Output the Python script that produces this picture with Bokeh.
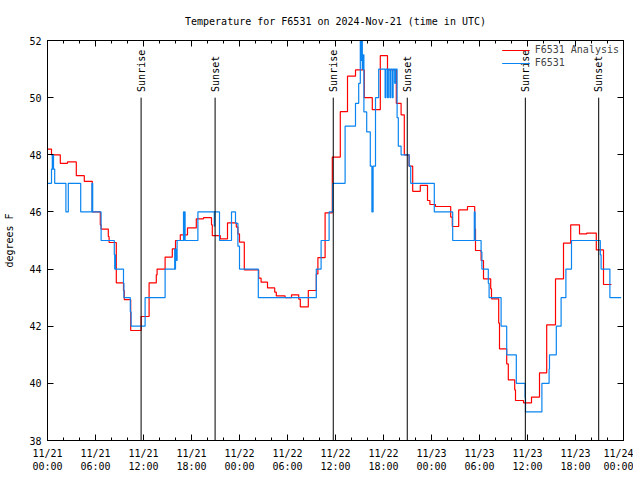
import math
import pandas as pd
from bokeh.plotting import figure
from bokeh.models import (DatetimeAxis, LinearAxis, FixedTicker, DatetimeTickFormatter)
from bokeh.core.properties import value
from bokeh.embed import file_html
from bokeh.resources import INLINE

# ---------------- data (hours after 2024-11-21 00:00 UTC) ----------------
start_time = "2024-11-21 00:00"

analysis_hours = [0.0, 0.5, 1.6, 2.5, 3.6, 4.6, 5.6, 6.6, 6.7, 7.6, 7.7, 8.6, 9.5, 9.6,
                  10.4, 11.7, 12.7, 13.6, 13.7, 14.7, 15.6, 16.0, 16.6, 17.5, 18.6, 19.5,
                  20.5, 20.6, 21.6, 22.5, 23.6, 23.8, 24.0, 24.6, 26.4, 26.7, 27.5, 28.4,
                  28.6, 29.7, 30.5, 31.4, 31.6, 32.6, 33.6, 33.8, 34.7, 35.6, 36.6, 37.5,
                  38.5, 39.6, 40.6, 41.6, 42.5, 43.6, 44.2, 44.6, 45.2, 45.65, 46.6, 47.5,
                  47.8, 48.5, 50.4, 50.6, 51.4, 52.5, 53.4, 53.5, 54.2, 54.5, 55.4, 55.5,
                  56.4, 56.5, 57.4, 57.6, 58.4, 58.5, 59.5, 60.5, 61.5, 62.4, 63.5, 64.5,
                  65.4, 66.5, 67.4, 68.6, 69.5, 70.5]
analysis_temps = [48.2, 48.0, 47.7, 47.75, 47.27, 47.07, 46.0, 45.55, 45.4, 45.14, 44.93,
                  43.52, 43.25, 42.93, 41.85, 42.34, 43.52, 43.8, 44.0, 44.42, 44.71, 45.0,
                  45.2, 45.44, 45.76, 45.8, 45.55, 45.17, 45.06, 45.62, 45.47, 45.23, 44.94,
                  43.97, 43.68, 43.54, 43.34, 43.19, 43.06, 43.0, 43.1, 42.95, 42.68, 43.25,
                  43.83, 44.4, 45.97, 47.92, 49.51, 50.75, 50.97, 50.0, 49.58, 51.47, 50.97,
                  49.8, 49.4, 48.0, 47.6, 46.72, 46.93, 46.4, 46.26, 46.19, 45.82, 45.49,
                  46.07, 46.19, 45.41, 44.65, 44.3, 43.66, 43.31, 42.96, 42.11, 41.21, 40.68,
                  40.12, 39.77, 39.4, 39.32, 39.52, 40.37, 42.05, 43.66, 44.91, 45.55, 45.23,
                  45.26, 44.67, 43.46, 43.46]

station_hours = [0.0, 0.5, 0.6, 0.65, 0.7, 0.75, 0.9, 2.3, 2.6, 4.15, 5.55, 5.6, 5.62, 5.65,
                 6.7, 8.35, 8.4, 8.45, 8.5, 9.5, 9.55, 10.35, 10.45, 12.2, 14.7, 15.9, 15.95,
                 16.0, 16.1, 16.2, 17.0, 17.05, 17.1, 17.2, 18.8, 20.85, 20.9, 21.5, 23.0,
                 23.5, 23.8, 24.0, 26.35, 33.6, 34.2, 35.2, 35.65, 37.2, 38.5, 38.9, 39.1,
                 39.2, 39.25, 39.35, 39.4, 39.45, 39.5, 39.55, 39.9, 40.35, 40.55, 40.7, 41.0,
                 41.4, 42.2, 42.3, 42.5, 42.6, 42.8, 42.9, 43.1, 43.2, 43.4, 43.5, 43.7,
                 43.85, 44.2, 45.2, 45.4, 48.35, 50.65, 53.35, 53.45, 54.2, 54.3, 55.1, 55.2,
                 56.7, 57.4, 58.6, 59.7, 59.75, 61.8, 62.7, 62.75, 63.6, 64.2, 64.8, 65.5,
                 69.1, 69.2, 70.3, 71.7]
station_temps = [47, 47.5, 48, 47.5, 48, 47.5, 47, 46, 47, 46, 47, 46, 47, 46,
                 45, 44.5, 44, 44.5, 44, 43.5, 43, 42.5, 42, 43, 44, 44.7, 44,
                 44.7, 44.3, 45, 46, 45, 46, 45, 46, 45.5, 46, 45, 46,
                 45.6, 44.8, 44, 43, 44, 45, 46, 47, 49, 49.8, 50.5, 52.5,
                 51.3, 52.5, 51.0, 51.5, 51.0, 51.5, 49.5, 48.8, 47.6, 46, 47.6, 50,
                 51, 50, 51, 50, 51, 50, 51, 50, 51, 50.5, 51, 49.3,
                 48.3, 48, 47.6, 47, 46, 45, 46, 45, 44.6, 44, 43.5, 43,
                 42, 41, 40, 39.5, 39, 40, 40.5, 41, 42, 43, 44, 45,
                 44.5, 44, 43, 43]

event_hours = [11.7, 20.95, 35.72, 44.97, 59.73, 68.9]
event_labels = ["Sunrise", "Sunset", "Sunrise", "Sunset", "Sunrise", "Sunset"]

y_ticks = [38, 40, 42, 44, 46, 48, 50, 52]
major_step_hours = 6
minor_step_hours = 2
span_hours = 72

# ---------------- helpers ----------------
t0 = pd.Timestamp(start_time)


def to_dt(hours):
    return [(t0 + pd.Timedelta(hours=h)).to_pydatetime() for h in hours]


def to_ms(hours):
    return [(t0 + pd.Timedelta(hours=h)).timestamp() * 1000.0 for h in hours]


FONT = "DejaVu Sans Mono"
FS = "10px"

p = figure(
    frame_width=576, frame_height=400,
    x_axis_type="datetime",
    x_range=(t0.to_pydatetime(), (t0 + pd.Timedelta(hours=span_hours)).to_pydatetime()),
    y_range=(38, 52),
    output_backend="svg", toolbar_location=None,
    min_border_left=47, min_border_right=10, min_border_top=40, min_border_bottom=34,
    title="Temperature for F6531 on 2024-Nov-21 (time in UTC)",
)
p.background_fill_color = "white"
p.border_fill_color = "white"
p.outline_line_color = "black"
p.outline_line_width = 1
p.xgrid.visible = False
p.ygrid.visible = False

p.title.align = "center"
p.title.text_font = FONT
p.title.text_font_size = FS
p.title.text_font_style = "normal"
p.title.text_color = "black"
p.title.standoff = 27

major_ms = to_ms(list(range(0, span_hours + 1, major_step_hours)))
minor_ms = to_ms(list(range(0, span_hours + 1, minor_step_hours)))
xticker = FixedTicker(ticks=major_ms, minor_ticks=minor_ms)
fmt = "%m/%d\n%H:%M"
xformatter = DatetimeTickFormatter(
    microseconds=fmt, milliseconds=fmt, seconds=fmt, minsec=fmt, minutes=fmt,
    hourmin=fmt, hours=fmt, days=fmt, months=fmt, years=fmt)
yticker = FixedTicker(ticks=y_ticks, minor_ticks=[])


def style_axis(ax):
    ax.axis_line_color = "black"
    ax.major_tick_line_color = "black"
    ax.minor_tick_line_color = "black"
    ax.major_tick_in = 6
    ax.major_tick_out = 0
    ax.minor_tick_in = 3
    ax.minor_tick_out = 0
    ax.major_label_text_font = FONT
    ax.major_label_text_font_size = FS
    ax.major_label_text_color = "black"
    ax.axis_label_text_font = FONT
    ax.axis_label_text_font_size = FS
    ax.axis_label_text_font_style = "normal"
    ax.axis_label_text_color = "black"


xa = p.xaxis[0]
xa.ticker = xticker
xa.formatter = xformatter
style_axis(xa)
xa.major_label_standoff = 7

ya = p.yaxis[0]
ya.ticker = yticker
style_axis(ya)
ya.axis_label = "degrees F"
ya.major_label_standoff = 6
ya.axis_label_standoff = 11

top_ax = DatetimeAxis(ticker=xticker, formatter=xformatter)
style_axis(top_ax)
top_ax.major_label_text_color = None
top_ax.major_label_text_font_size = "2px"
top_ax.major_label_standoff = 0
p.add_layout(top_ax, "above")

right_ax = LinearAxis(ticker=yticker)
style_axis(right_ax)
right_ax.major_label_text_color = None
right_ax.major_label_standoff = 0
p.add_layout(right_ax, "right")

# ---------------- series ----------------
p.step(to_dt(analysis_hours), analysis_temps, mode="after", color="#ff0000",
       line_width=1.2, legend_label="F6531 Analysis")
p.step(to_dt(station_hours), station_temps, mode="after", color="#0a84f0",
       line_width=1.2, legend_label="F6531")

# sunrise / sunset markers
ev_x = to_dt(event_hours)
p.segment(x0=ev_x, y0=[38] * len(ev_x), x1=ev_x, y1=[50.0] * len(ev_x),
          color="black", line_width=1)
p.text(x=ev_x, y=[50.2] * len(ev_x), text=event_labels, angle=math.pi / 2,
       text_align="left", text_baseline="middle", text_font=value(FONT),
       text_font_size=value(FS), text_color="black")

leg = p.legend[0]
leg.location = "top_right"
leg.border_line_color = None
leg.background_fill_alpha = 0
leg.label_text_font = FONT
leg.label_text_font_size = FS
leg.glyph_width = 28
leg.glyph_height = 10
leg.spacing = 2
leg.padding = 2
leg.margin = 4
leg.label_standoff = 5
leg.label_height = 11

open("out.html", "w").write(file_html(p, INLINE))
